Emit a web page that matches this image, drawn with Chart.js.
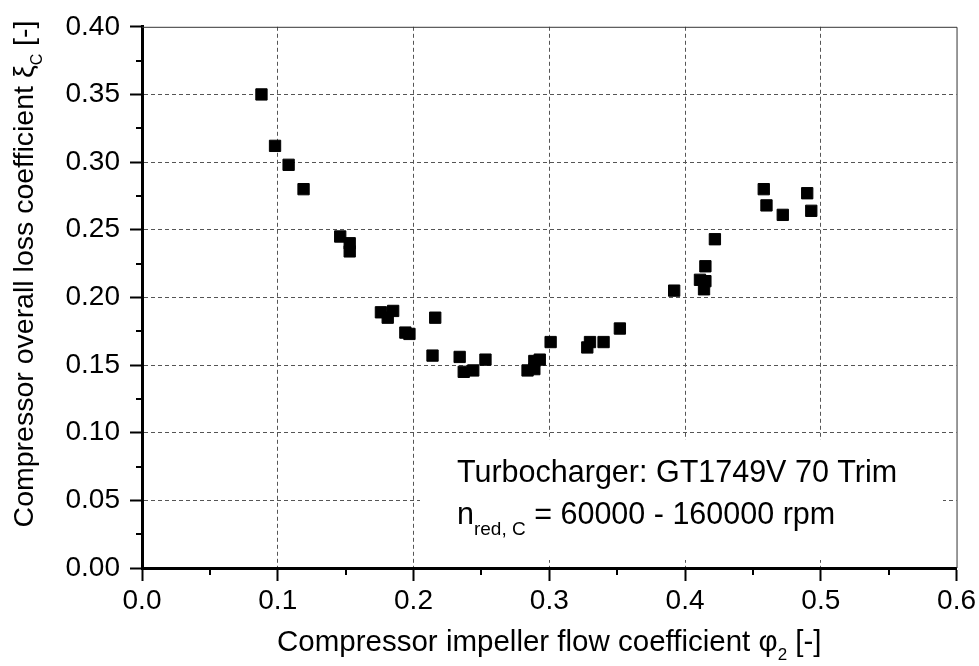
<!DOCTYPE html>
<html lang="en">
<head>
    <meta charset="UTF-8">
    <title>Compressor loss coefficient</title>
    <style>
        body { margin: 0; background: #fff; }
        #wrap { width: 979px; height: 666px; }
    </style>
</head>
<body>
    <div id="wrap">
        <canvas id="myChart" width="979" height="666"></canvas>
    </div>

    <script src="https://cdn.jsdelivr.net/npm/chart.js"></script>

    <script>
        // flow coefficient phi_2 and overall loss coefficient xi_C
        let phi = [0.088, 0.098, 0.108, 0.119, 0.146, 0.153, 0.153, 0.176, 0.181, 0.185,
                   0.194, 0.197, 0.214, 0.216, 0.234, 0.237, 0.244, 0.253, 0.284, 0.289,
                   0.289, 0.293, 0.301, 0.328, 0.330, 0.340, 0.352, 0.392, 0.411, 0.414,
                   0.415, 0.415, 0.422, 0.458, 0.460, 0.472, 0.490, 0.493];
        let xi  = [0.350, 0.312, 0.298, 0.280, 0.245, 0.240, 0.234, 0.189, 0.185, 0.190,
                   0.174, 0.173, 0.157, 0.185, 0.156, 0.145, 0.146, 0.154, 0.146, 0.153,
                   0.147, 0.154, 0.167, 0.163, 0.167, 0.167, 0.177, 0.205, 0.213, 0.206,
                   0.212, 0.223, 0.243, 0.280, 0.268, 0.261, 0.277, 0.264];

        let xTicks = [0.0, 0.1, 0.2, 0.3, 0.4, 0.5, 0.6];
        let yTicks = [0.00, 0.05, 0.10, 0.15, 0.20, 0.25, 0.30, 0.35, 0.40];

        const FONT = '"Liberation Sans", Arial, Helvetica, sans-serif';

        let points = [];
        for (let i = 0; i < phi.length; i++) {
            points.push({ x: phi[i], y: xi[i] });
        }

        // draws text pieces with subscripts, returns total width
        function drawPieces(ctx, pieces, x, y, measureOnly) {
            let w = 0;
            for (let p of pieces) {
                ctx.font = p.size + 'px ' + FONT;
                if (!measureOnly) ctx.fillText(p.t, x + w, y + (p.dy || 0));
                w += ctx.measureText(p.t).width;
            }
            return w;
        }

        const extras = {
            id: 'extras',
            afterDraw(chart) {
                const ctx = chart.ctx;
                const a = chart.chartArea;
                const xs = chart.scales.x, ys = chart.scales.y;
                ctx.save();

                // thin frame on top / right
                ctx.strokeStyle = '#333';
                ctx.lineWidth = 1;
                ctx.beginPath();
                ctx.moveTo(a.left, a.top + 0.5);
                ctx.lineTo(a.right + 0.5, a.top + 0.5);
                ctx.lineTo(a.right + 0.5, a.bottom);
                ctx.stroke();

                // minor ticks
                ctx.strokeStyle = '#000';
                ctx.lineWidth = 2;
                ctx.beginPath();
                for (let v = 0.05; v < 0.6; v += 0.1) {
                    let px = Math.round(xs.getPixelForValue(v));
                    ctx.moveTo(px, a.bottom);
                    ctx.lineTo(px, a.bottom + 7);
                }
                for (let v = 0.025; v < 0.4; v += 0.05) {
                    let py = Math.round(ys.getPixelForValue(v));
                    ctx.moveTo(a.left, py);
                    ctx.lineTo(a.left - 6, py);
                }
                ctx.stroke();

                // annotation box
                ctx.fillStyle = '#fff';
                ctx.fillRect(420, 440, 523, 120);
                ctx.fillStyle = '#000';
                ctx.textBaseline = 'alphabetic';
                ctx.textAlign = 'left';
                ctx.font = '30.5px ' + FONT;
                ctx.fillText('Turbocharger: GT1749V 70 Trim', 457, 482);
                drawPieces(ctx, [
                    { t: 'n', size: 30.5 },
                    { t: 'red, C', size: 19, dy: 11 },
                    { t: ' = 60000 - 160000 rpm', size: 30.5 }
                ], 457, 524);

                // x axis title
                let xPieces = [
                    { t: 'Compressor impeller flow coefficient \u03C6', size: 29.5 },
                    { t: '2', size: 17, dy: 9 },
                    { t: ' [-]', size: 29.5 }
                ];
                let xw = drawPieces(ctx, xPieces, 0, 0, true);
                drawPieces(ctx, xPieces, (a.left + a.right) / 2 - xw / 2, 651);

                // y axis title
                let yPieces = [
                    { t: 'Compressor overall loss coefficient \u03BE', size: 28.5 },
                    { t: 'C', size: 16, dy: 9 },
                    { t: ' [-]', size: 28.5 }
                ];
                let yw = drawPieces(ctx, yPieces, 0, 0, true);
                ctx.translate(33, 274);
                ctx.rotate(-Math.PI / 2);
                drawPieces(ctx, yPieces, -yw / 2, 0);

                ctx.restore();
            }
        };

        const ctx = document.getElementById('myChart');

        let chart = new Chart(ctx, {
            type: 'scatter',
            data: {
                datasets: [{
                    data: points,
                    pointStyle: 'rect',
                    pointRadius: 8,
                    pointBorderWidth: 1,
                    backgroundColor: '#000',
                    borderColor: '#000'
                }]
            },
            options: {
                responsive: false,
                animation: false,
                layout: { padding: { left: 0, top: 22, right: 21, bottom: 0 } },
                plugins: {
                    legend: { display: false },
                    tooltip: { enabled: false }
                },
                scales: {
                    x: {
                        type: 'linear',
                        min: 0,
                        max: 0.6,
                        afterFit: (s) => { s.height = 98; },
                        afterBuildTicks: (s) => { s.ticks = xTicks.map(v => ({ value: v })); },
                        ticks: {
                            callback: (v) => v.toFixed(1),
                            color: '#000',
                            font: { family: FONT, size: 28 },
                            padding: 3,
                            maxRotation: 0
                        },
                        grid: {
                            color: (c) => (c.tick && c.tick.value > 0 && c.tick.value < 0.6) ? '#555' : 'rgba(0,0,0,0)',
                            lineWidth: 1,
                            tickColor: '#000',
                            tickLength: 13,
                            tickWidth: 2
                        },
                        border: { display: true, color: '#000', width: 3, dash: [4, 3] }
                    },
                    y: {
                        type: 'linear',
                        min: 0,
                        max: 0.4,
                        afterFit: (s) => { s.width = 142; },
                        afterBuildTicks: (s) => { s.ticks = yTicks.map(v => ({ value: v })); },
                        ticks: {
                            callback: (v) => v.toFixed(2),
                            color: '#000',
                            font: { family: FONT, size: 28 },
                            padding: 10
                        },
                        grid: {
                            color: (c) => (c.tick && c.tick.value > 0 && c.tick.value < 0.4) ? '#555' : 'rgba(0,0,0,0)',
                            lineWidth: 1,
                            tickColor: '#000',
                            tickLength: 12,
                            tickWidth: 2
                        },
                        border: { display: true, color: '#000', width: 3, dash: [4, 3] }
                    }
                }
            },
            plugins: [extras]
        });
    </script>
</body>
</html>
